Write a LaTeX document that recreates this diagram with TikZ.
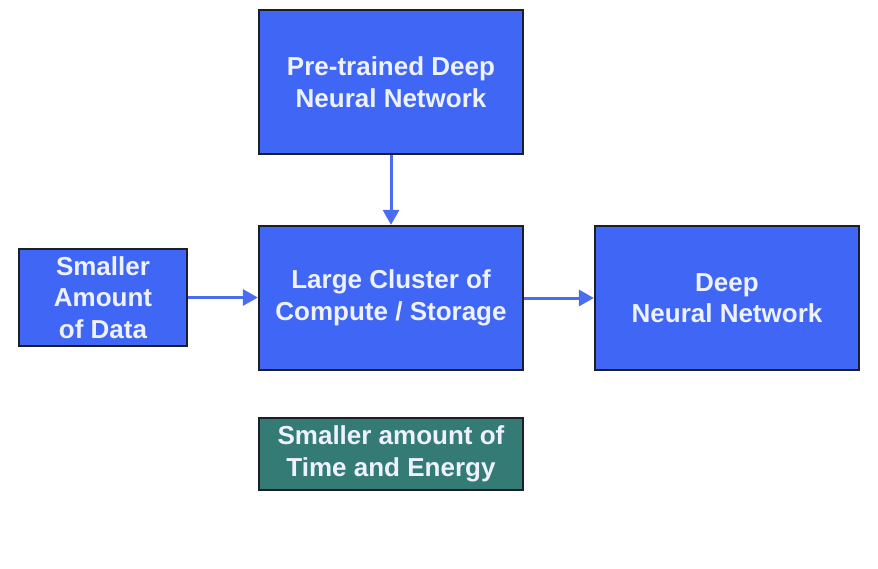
\documentclass[tikz,border=0pt]{standalone}
\usepackage{fontspec}
\setmainfont{Liberation Sans}
\usetikzlibrary{arrows.meta}
\definecolor{boxblue}{HTML}{4066F5}
\definecolor{boxteal}{HTML}{357B75}
\definecolor{arrowblue}{HTML}{4A6CF0}
\definecolor{edge}{HTML}{1E1E28}
\definecolor{txt}{HTML}{EEF2FF}
\tikzset{
  block/.style={draw=edge, line width=1.3pt, fill=boxblue, text=txt,
    inner sep=0pt, align=center, font=\bfseries\fontsize{26}{31.5}\selectfont},
  conn/.style={draw=arrowblue, line width=3pt,
    -{Triangle[width=16pt,length=15pt]}, shorten >=0.5pt}
}
\begin{document}
\begin{tikzpicture}[x=1pt,y=-1pt]
\fill[white] (0,0) rectangle (878,568);
\useasboundingbox (0,0) rectangle (878,568);
\node[block, minimum width=264pt, minimum height=144pt] (pre) at (391,82) {Pre-trained Deep\\Neural Network};
\node[block, minimum width=264pt, minimum height=144pt] (clu) at (391,298) {Large Cluster of\\Compute / Storage};
\node[block, minimum width=168pt, minimum height=97pt] (dat) at (103,297.5) {Smaller\\Amount\\of Data};
\node[block, minimum width=264pt, minimum height=144pt] (dnn) at (727,298) {Deep\\Neural Network};
\node[block, fill=boxteal, minimum width=264pt, minimum height=72pt] (tim) at (391,454) {Smaller amount of\\Time and Energy};
\draw[conn] (pre.south) -- (clu.north);
\draw[conn] (dat.east) -- (dat.east -| clu.west);
\draw[conn] (clu.east) -- (dnn.west);
\end{tikzpicture}
\end{document}
